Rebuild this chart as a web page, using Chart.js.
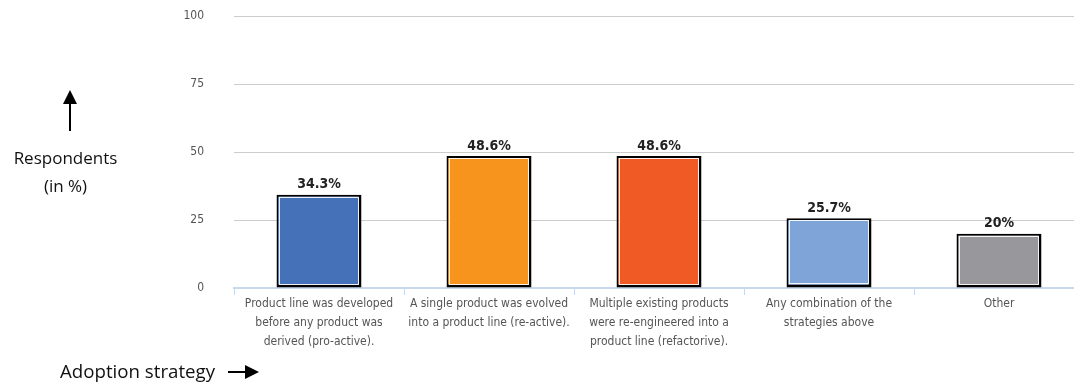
<!DOCTYPE html>
<html>
<head>
<meta charset="utf-8">
<script src="https://cdn.jsdelivr.net/npm/chart.js@4"></script>
<style>
  body { margin: 0; background: #fff; overflow: hidden; }
  #wrap { position: relative; width: 1074px; height: 387px; overflow: hidden; }
  #grafico { display: block; margin-top: -21px; }
  .note { position: absolute; font-family: "Open Sans", "DejaVu Sans", sans-serif; color: #111; text-align: center; }
</style>
</head>
<body>
<div id="wrap">
  <canvas id="grafico" width="1086" height="408"></canvas>
  <div class="note" style="left:-1px; top:144px; width:133px; font-size:17px; line-height:28px;">Respondents<br>(in %)</div>
  <div class="note" style="left:60px; top:358px; font-size:18.7px;">Adoption strategy</div>
</div>
<script>
// Dati del grafico
const categorie = [
    ['Product line was developed', 'before any product was', 'derived (pro-active).'],
    ['A single product was evolved', 'into a product line (re-active).'],
    ['Multiple existing products', 'were re-engineered into a', 'product line (refactorive).'],
    ['Any combination of the', 'strategies above'],
    ['Other']
];
const percentuali = [34.3, 48.6, 48.6, 25.7, 20];
const etichetteValori = ['34.3%', '48.6%', '48.6%', '25.7%', '20%'];
const tickY = [0, 25, 50, 75, 100];
const colori = ['#4571b8', '#f7941e', '#f05a24', '#7fa4d7', '#98989c'];

const fontStretto = '"DejaVu Sans Condensed", "Liberation Sans Narrow", "Liberation Sans", sans-serif';
const spostamento = 21; // il canvas è spostato in alto di questa quantità

// Plugin per il filo bianco interno e le etichette sopra le barre
const etichetteBarre = {
    id: 'etichetteBarre',
    afterDatasetsDraw(chart) {
        const ctx = chart.ctx;
        const meta = chart.getDatasetMeta(0);
        ctx.save();
        // filo bianco dentro il bordo nero
        ctx.strokeStyle = 'rgba(255,255,255,0.9)';
        ctx.lineWidth = 1;
        meta.data.forEach((barra) => {
            const sx = barra.x - barra.width / 2;
            const dx = barra.x + barra.width / 2;
            ctx.strokeRect(Math.round(sx) + 2.5, Math.round(barra.y) + 2.5,
                Math.round(dx - sx) - 6, Math.round(barra.base - barra.y) - 6);
        });
        ctx.font = 'bold 14px ' + fontStretto;
        ctx.fillStyle = '#222';
        ctx.textAlign = 'center';
        ctx.textBaseline = 'bottom';
        meta.data.forEach((barra, i) => {
            ctx.fillText(etichetteValori[i], barra.x, barra.y - 3);
        });
        ctx.restore();
    }
};

// Plugin per le frecce delle annotazioni
const frecce = {
    id: 'frecce',
    afterDraw(chart) {
        const ctx = chart.ctx;
        ctx.save();
        ctx.translate(0, spostamento);
        ctx.fillStyle = '#000';
        ctx.strokeStyle = '#000';
        ctx.lineWidth = 2;
        // freccia verso l'alto
        ctx.beginPath();
        ctx.moveTo(70, 131);
        ctx.lineTo(70, 100);
        ctx.stroke();
        ctx.beginPath();
        ctx.moveTo(70, 90);
        ctx.lineTo(63, 104);
        ctx.lineTo(77, 104);
        ctx.closePath();
        ctx.fill();
        // freccia verso destra
        ctx.beginPath();
        ctx.moveTo(228, 372);
        ctx.lineTo(250, 372);
        ctx.stroke();
        ctx.beginPath();
        ctx.moveTo(259, 372);
        ctx.lineTo(245, 365);
        ctx.lineTo(245, 379);
        ctx.closePath();
        ctx.fill();
        ctx.restore();
    }
};

new Chart(document.getElementById('grafico'), {
    type: 'bar',
    data: {
        labels: categorie,
        datasets: [{
            data: percentuali,
            backgroundColor: colori,
            borderColor: '#000',
            borderWidth: { top: 2, left: 2, right: 3, bottom: 3 },
            borderSkipped: false,
            barPercentage: 0.5,
            categoryPercentage: 1
        }]
    },
    plugins: [etichetteBarre, frecce],
    options: {
        responsive: false,
        animation: false,
        layout: { padding: { top: 15, right: 2, left: 0, bottom: 0 } },
        plugins: {
            legend: { display: false },
            tooltip: { enabled: false }
        },
        scales: {
            x: {
                grid: {
                    offset: true,
                    drawOnChartArea: false,
                    drawTicks: true,
                    tickLength: 7,
                    color: '#c9d8ea'
                },
                border: { color: '#c9d8ea', width: 2 },
                ticks: {
                    color: '#555',
                    font: { family: fontStretto, size: 12, lineHeight: 1.55 },
                    padding: 0,
                    maxRotation: 0,
                    autoSkip: false
                },
                afterFit(scala) { scala.height = 99; }
            },
            y: {
                min: 0,
                max: 100,
                afterBuildTicks(scala) { scala.ticks = tickY.map(v => ({ value: v })); },
                grid: { color: '#cccccc', drawTicks: false },
                border: { display: false },
                ticks: {
                    color: '#555',
                    font: { family: fontStretto, size: 12 },
                    padding: 30
                },
                afterFit(scala) { scala.width = 234; }
            }
        }
    }
});
</script>
</body>
</html>
